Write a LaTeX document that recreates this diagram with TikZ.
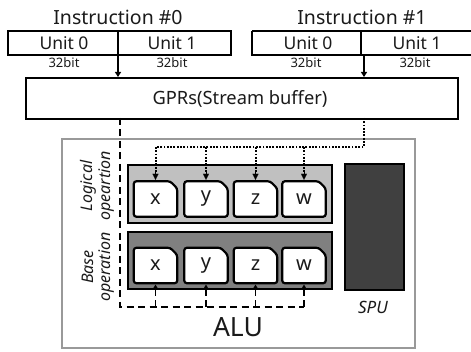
\documentclass[tikz,border=0pt]{standalone}
\usepackage{fontspec}
\setmainfont{Noto Sans}
\usetikzlibrary{arrows.meta}
\definecolor{txt}{HTML}{1A1A1A}
\definecolor{lightpanel}{HTML}{C0C0C0}
\definecolor{darkpanel}{HTML}{808080}
\definecolor{spufill}{HTML}{404040}
\definecolor{outergray}{HTML}{999999}
\tikzset{
  lbl/.style={inner sep=0pt, text=txt},
  frame/.style={draw=black, line width=1.6pt},
  slot/.style={inner sep=0pt, minimum width=43pt, minimum height=35pt, text=txt},
  slotline/.style={draw=black, line width=2.2pt, fill=white, rounded corners=2.5pt},
  panel/.style={draw=black, line width=2pt},
  arr/.style={-{Triangle[length=5pt,width=6pt]}, line width=1.3pt},
  dashline/.style={line width=1.8pt, dash pattern=on 7pt off 4.5pt},
  dotline/.style={line width=2pt, dash pattern=on 1.8pt off 1.5pt},
  rot/.style={inner sep=0pt, rotate=90, font=\fontsize{16}{18}\selectfont\bfseries\itshape, text=txt},
  ifont/.style={font=\fontsize{19.5}{22}\selectfont},
  ufont/.style={font=\fontsize{17.5}{20}\selectfont},
  bfont/.style={font=\fontsize{13}{14}\selectfont}
}
\newcommand{\slotbox}[3]{%
  \node[slot] (#1) at (#2) {};
  \draw[slotline] (#1.south west) -- (#1.north west) -- ([xshift=-7pt]#1.north east) -- ([yshift=-7pt]#1.north east) -- (#1.south east) -- cycle;
  \node[lbl, font=\fontsize{20}{22}\selectfont] at (#1) {#3};
}
\begin{document}
\begin{tikzpicture}[x=1pt,y=-1pt]
\useasboundingbox (0,0) rectangle (471,352);
\fill[white] (0,0) rectangle (471,352);

% Instructions
\node[lbl, ifont] (i0) at (118,17) {Instruction \#0};
\node[lbl, ifont] (i1) at (362,17) {Instruction \#1};
\draw[frame] (8,31) rectangle (231,55);
\draw[frame] (118,31) -- (118,55);
\draw[frame] (252,31) -- (480,31) (252,31) -- (252,55) -- (480,55);
\draw[frame] (361,31) -- (361,55);
\node[lbl, ufont] (u00) at (64,43) {Unit 0};
\node[lbl, ufont] (u01) at (172,43) {Unit 1};
\node[lbl, ufont] (u10) at (308,43) {Unit 0};
\node[lbl, ufont] (u11) at (417,43) {Unit 1};
\node[lbl, bfont] (b00) at (64,63) {32bit};
\node[lbl, bfont] (b01) at (172,63) {32bit};
\node[lbl, bfont] (b10) at (306,63) {32bit};
\node[lbl, bfont] (b11) at (415,63) {32bit};

\coordinate (s0) at (118,55);
\coordinate (s1) at (364,55);

% GPR
\node[frame, minimum width=432pt, minimum height=41pt, inner sep=0pt, anchor=north west] (gpr) at (25,77) {};
\node[lbl, font=\fontsize{18.3}{20}\selectfont] at (240,99) {GPRs(Stream buffer)};
\draw[arr] (s0) -- (s0 |- gpr.north);
\draw[arr] (s1) -- (s1 |- gpr.north);

% outer
\draw[draw=outergray, line width=1.8pt] (62,139) rectangle (415,348);

% panels
\draw[panel, fill=lightpanel] (128,165) rectangle (332,223);
\draw[panel, fill=darkpanel] (128,232) rectangle (332,289);
\draw[panel, fill=spufill] (345,164) rectangle (404,290);

% slots
\slotbox{lx}{155.5,199}{x}
\slotbox{ly}{206,199}{y}
\slotbox{lz}{255.5,199}{z}
\slotbox{lw}{304,199}{w}
\slotbox{bx}{155.5,265.5}{x}
\slotbox{by}{206,265.5}{y}
\slotbox{bz}{255.5,265.5}{z}
\slotbox{bw}{304,265.5}{w}

% dotted distribution
\coordinate (dtop) at (364,118);
\coordinate (dcorner) at (364,147);
\draw[dotline] (dtop) -- (dcorner) -- (155.5,147);
\foreach \n in {lx,ly,lz,lw}{
  \draw[dotline] (\n.north |- dcorner) -- ([yshift=9pt]\n.north);
  \draw[-{Triangle[length=6pt,width=6pt]}, line width=0.1pt] ([yshift=9pt]\n.north) -- ([yshift=1.5pt]\n.north);
}

% dashed feedback
\coordinate (ftop) at (120,118);
\coordinate (fcorner) at (120,307);
\coordinate (fend) at (304,307);
\draw[dashline] (ftop) -- (fcorner) -- (fend);
\foreach \n in {bx,by,bz,bw}{
  \draw[line width=1.8pt, dash pattern=on 7pt off 4pt] (\n.south |- fcorner) -- ([yshift=-7pt]\n.south);
  \draw[-{Triangle[length=5pt,width=6pt]}, line width=0.1pt] ([yshift=-7pt]\n.south) -- ([yshift=-1.5pt]\n.south);
}

% labels
\node[rot] (lg1) at (88,186) {Logical};
\node[rot] (lg2) at (107,186) {opeartion};
\node[rot] (bs1) at (88,267) {Base};
\node[rot] (bs2) at (107,267) {operation};
\node[lbl, font=\fontsize{17}{19}\selectfont\bfseries\itshape] (spu) at (373,307) {SPU};
\node[lbl, font=\fontsize{26.5}{28}\selectfont] (alu) at (238,327) {ALU};
\end{tikzpicture}
\end{document}
